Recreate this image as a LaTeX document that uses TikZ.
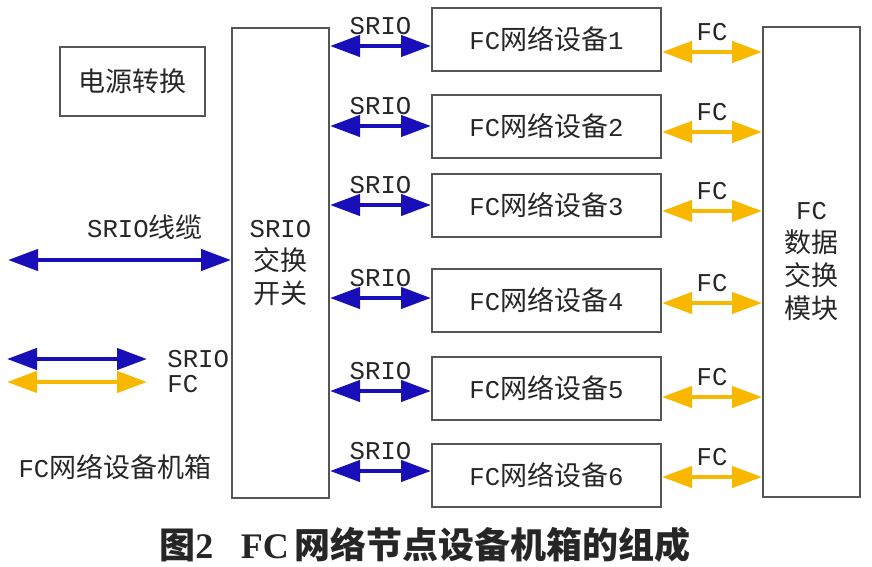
\documentclass[tikz,border=0pt]{standalone}
\usepackage{fontspec}
\usepackage{xcolor}
\usepackage{tikz}
\usetikzlibrary{arrows.meta,positioning}
\setmainfont{Liberation Mono}[Scale=0.95]
\newfontfamily\cjk{Noto Sans CJK SC}
\newfontfamily\capserif{Liberation Serif}
\definecolor{srioblue}{RGB}{25,15,185}
\definecolor{fcorange}{RGB}{248,184,0}
\definecolor{boxgray}{RGB}{85,85,85}

\begin{document}
\begin{tikzpicture}[x=0.5pt, y=-0.5pt,
        every node/.style={font=\fontsize{13.5}{16.5}\selectfont, text=black!85},
        box/.style={draw=boxgray, line width=1pt, inner sep=0pt, align=center},
        dev/.style={box, minimum width=114.5pt, minimum height=31.5pt},
        tall/.style={box, minimum width=48.5pt, minimum height=235pt},
        txt/.style={inner sep=0pt},
        srio/.style={draw=srioblue, line width=2.2pt, {Triangle[length=15pt, width=10.5pt]}-{Triangle[length=15pt, width=10.5pt]}},
        fc/.style={draw=fcorange, line width=2.2pt, {Triangle[length=15pt, width=10.5pt]}-{Triangle[length=15pt, width=10.5pt]}},
        lbl/.style={inner sep=0pt, above=4.5pt}]
        \useasboundingbox (0,0) rectangle (872,567);

        \node[box, minimum width=72.5pt, minimum height=34.5pt] (power) at (132.5,81.5) {\cjk 电源转换};
        \node[tall] (sw) at (280.5,263) {SRIO\\{\cjk 交换}\\{\cjk 开关}};
        \node[tall] (fcsw) at (811.5,262) {FC\\{\cjk 数据}\\{\cjk 交换}\\{\cjk 模块}};

        \foreach \i/\y/\s/\f in {1/39.5/-3.25/-6.25, 2/126.5/0.25/-2.75, 3/205.5/0.25/-2.75,
                                 4/300.5/1.25/-1.25, 5/388/-1.5/-4.5, 6/475/2/-1}{
            \node[dev] (d\i) at (546.5,\y) {FC{\cjk 网络设备}\i};
            \draw[srio] ([yshift=\s pt]d\i.west -| sw.east) -- ([yshift=\s pt]d\i.west)
                node[midway, lbl] {SRIO};
            \draw[fc] ([yshift=\f pt]d\i.east) -- ([yshift=\f pt]d\i.east -| fcsw.west)
                node[midway, lbl] {FC};
        }

        % cable and legend
        \coordinate (cab) at (8,260);
        \draw[srio] (cab) -- (cab -| sw.west);
        \node[txt] (cabtxt) at (145,227) {SRIO{\cjk 线缆}};

        \coordinate (ls1) at (7,359);
        \coordinate (ls2) at (147,359);
        \coordinate (lf1) at (7,382);
        \coordinate (lf2) at (147,382);
        \draw[srio] (ls1) -- (ls2);
        \draw[fc] (lf1) -- (lf2);
        \node[txt, anchor=west] (lsrio) at (167,359) {SRIO};
        \node[txt, anchor=west] (lfc) at (167,384) {FC};

        \node[txt] (chassis) at (115,467) {FC{\cjk 网络设备机箱}};

        \node[txt, font=\fontsize{18}{21}\selectfont] (cap) at (425,545)
            {{\cjk\bfseries 图}{\capserif\bfseries 2}\hspace{0.8em}{\capserif\bfseries FC}\,{\cjk\bfseries 网络节点设备机箱的组成}};
\end{tikzpicture}
\end{document}
